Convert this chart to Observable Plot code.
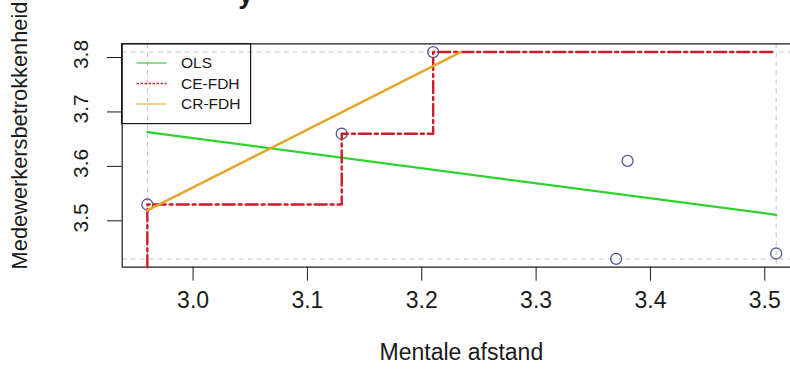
<!DOCTYPE html>
<html>
<head>
<meta charset="utf-8">
<script src="https://cdn.jsdelivr.net/npm/d3@7"></script>
<script src="https://cdn.jsdelivr.net/npm/@observablehq/plot@0.6"></script>
<style>
  html, body { margin: 0; padding: 0; background: #fff; }
  #wrap { position: relative; width: 790px; height: 376px; overflow: hidden; }
  #legend { position: absolute; left: 121px; top: 43px; }
</style>
</head>
<body>
<div id="wrap"></div>
<script>
// Data points (Mentale afstand vs Medewerkersbetrokkenheid)
const pointX = [2.96, 3.13, 3.21, 3.37, 3.38, 3.51];
const pointY = [3.53, 3.66, 3.81, 3.43, 3.61, 3.44];
// OLS line endpoints
const olsX = [2.96, 3.51];
const olsY = [3.663, 3.511];
// CE-FDH peers (step ceiling)
const peerX = [2.96, 3.13, 3.21];
const peerY = [3.53, 3.66, 3.81];
// CR-FDH line endpoints
const crX = [2.96, 3.234];
const crY = [3.519, 3.81];
// Ticks
const xTicks = [3.0, 3.1, 3.2, 3.3, 3.4, 3.5];
const yTicks = [3.5, 3.6, 3.7, 3.8];
const legendLabels = ["OLS", "CE-FDH", "CR-FDH"];
const titleFragment = "y";

const points = pointX.map((x, i) => ({x, y: pointY[i]}));
const xmin = d3.min(pointX), xmax = d3.max(pointX);
const ymin = d3.min(pointY), ymax = d3.max(pointY);
const yPad = 0.04 * (ymax - ymin);
const xPad = 0.04 * (xmax - xmin);
const xDomain = [xmin - xPad, 3.5225];
const yDomain = [ymin - yPad, ymax + yPad];

const ols = olsX.map((x, i) => ({x, y: olsY[i]}));
const cr = crX.map((x, i) => ({x, y: crY[i]}));
// step ceiling from the peers
const ce = [{x: peerX[0], y: yDomain[0]}];
peerX.forEach((x, i) => {
  if (i > 0) ce.push({x, y: peerY[i - 1]});
  ce.push({x, y: peerY[i]});
});
ce.push({x: xmax, y: peerY[peerY.length - 1]});

const green = "#2fd22f", red = "#c81e2a", orange = "#e8a426", grey = "#c4c4c4", ink = "#1a1a1a";

const chart = Plot.plot({
  width: 790,
  height: 376,
  marginLeft: 121.7,
  marginRight: 0,
  marginTop: 43.3,
  marginBottom: 109.3,
  x: {domain: xDomain},
  y: {domain: yDomain},
  style: {fontFamily: "'Liberation Sans', Arial, sans-serif", background: "white", color: ink, overflow: "visible"},
  marks: [
    // grey dashed data-range lines
    Plot.ruleY([ymin, ymax], {stroke: grey, strokeWidth: 1, strokeDasharray: "5,4"}),
    Plot.ruleX([xmin, xmax], {stroke: grey, strokeWidth: 1, strokeDasharray: "5,4"}),
    // frame (left, top, bottom)
    Plot.ruleX([xDomain[0]], {stroke: ink, strokeWidth: 1.2}),
    Plot.ruleY(yDomain, {stroke: ink, strokeWidth: 1.2}),
    // axes ticks
    Plot.axisX({ticks: xTicks, tickSize: 14, tickFormat: () => "", label: null, stroke: ink}),
    Plot.axisY({ticks: yTicks, tickSize: 14.7, tickFormat: () => "", label: null, stroke: ink}),
    // tick labels
    Plot.text(xTicks, {x: d => d, frameAnchor: "bottom", lineAnchor: "middle", textAnchor: "middle", dy: 33.5, text: d => d.toFixed(1), fontSize: 23, fill: ink}),
    Plot.text(yTicks, {y: d => d, frameAnchor: "left", textAnchor: "middle", lineAnchor: "middle", dx: -41, dy: -3, rotate: -90, text: d => d.toFixed(1), fontSize: 21, fill: ink}),
    // axis titles
    Plot.text(["Mentale afstand"], {frameAnchor: "bottom", lineAnchor: "middle", textAnchor: "middle", dx: 5, dy: 85, fontSize: 23, fill: ink}),
    Plot.text(["Medewerkersbetrokkenheid"], {frameAnchor: "left", textAnchor: "middle", lineAnchor: "middle", dx: -102, dy: -20, rotate: -90, fontSize: 21.8, fill: ink}),
    // title fragment (cut off at top)
    Plot.text([titleFragment], {frameAnchor: "top-left", textAnchor: "start", dx: 116, dy: -41, lineAnchor: "bottom", fontSize: 27, fontWeight: "bold", fill: ink}),
    // points
    Plot.dot(points, {x: "x", y: "y", r: 5.5, stroke: "#56569c", strokeWidth: 1.3, fill: "none"}),
    // lines
    Plot.line(ols, {x: "x", y: "y", stroke: green, strokeWidth: 2.2}),
    Plot.line(ce, {x: "x", y: "y", stroke: red, strokeWidth: 2.4, strokeDasharray: "12,4,3,4", curve: "linear"}),
    Plot.line(cr, {x: "x", y: "y", stroke: orange, strokeWidth: 2.5})
  ]
});
document.getElementById("wrap").appendChild(chart);

// Legend (transparent box inside the plot's top-left corner)
const lg = d3.select("#wrap").append("svg").attr("id", "legend")
  .attr("width", 131).attr("height", 82)
  .style("font-family", "'Liberation Sans', Arial, sans-serif");
lg.append("rect").attr("x", 0.6).attr("y", 0.6).attr("width", 129).attr("height", 80)
  .attr("fill", "none").attr("stroke", ink).attr("stroke-width", 1.2);
const legendStyles = [
  {stroke: "#3ccc3c", dash: null},
  {stroke: "#c0282f", dash: "2.5,1.5"},
  {stroke: "#e8b040", dash: null}
];
legendLabels.forEach((lab, i) => {
  const cy = 20 + i * 20.5;
  const s = legendStyles[i];
  const ln = lg.append("line").attr("x1", 15.5).attr("x2", 45.5).attr("y1", cy).attr("y2", cy)
    .attr("stroke", s.stroke).attr("stroke-width", s.dash ? 1.5 : 1.2);
  if (s.dash) ln.attr("stroke-dasharray", s.dash);
  lg.append("text").attr("x", 60).attr("y", cy).attr("dy", "0.35em")
    .attr("font-size", 15.5).attr("fill", ink).text(lab);
});
</script>
</body>
</html>
